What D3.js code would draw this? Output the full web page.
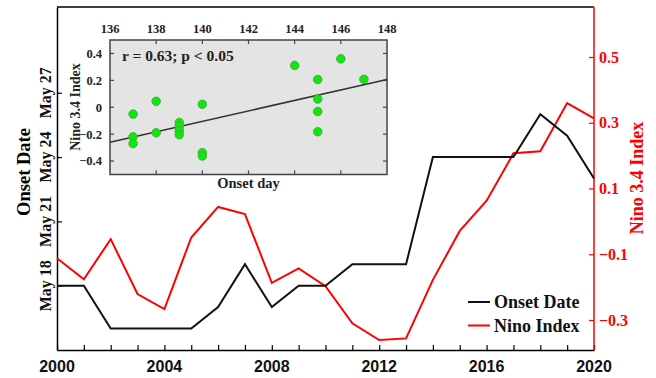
<!DOCTYPE html>
<html><head><meta charset="utf-8">
<script src="https://cdn.jsdelivr.net/npm/d3@7"></script>
<style>body{margin:0;background:#fff}svg{display:block}</style>
</head><body>
<svg id="c" width="656" height="378"></svg>
<script>
// ---- data ----
const years = d3.range(2000, 2021);
const onsetDay = [138,138,136,136,136,136,137,139,137,138,138,139,139,139,144,144,144,144,146,145,143];
const ninoIndex = [-0.112,-0.176,-0.054,-0.221,-0.267,-0.049,0.044,0.022,-0.187,-0.143,-0.197,-0.31,-0.361,-0.356,-0.178,-0.029,0.063,0.207,0.213,0.36,0.313];
const leftTickVals = [138,141,144,147];
const leftTickLabels = ["May 18","May 21","May 24","May 27"];
const rightTickVals = [-0.3,-0.1,0.1,0.3,0.5];
const bottomLabelYears = [2000,2004,2008,2012,2016,2020];
// inset scatter
const scatterDay = [137,137,137,138,138,139,139,139,139,140,140,140,144,145,145,145,145,146,147];
const scatterNino = [-0.051,-0.22,-0.27,0.044,-0.19,-0.113,-0.143,-0.174,-0.204,0.022,-0.338,-0.363,0.311,0.206,0.061,-0.032,-0.182,0.36,0.208];
const trendDay = [136,148];
const trendNino = [-0.26,0.206];
const insetXTicks = [136,138,140,142,144,146,148];
const insetYTicks = [-0.4,-0.2,0,0.2,0.4];

const svg = d3.select("#c");
const serif = "'Liberation Serif','Times New Roman',serif";
const sans = "'Liberation Sans',Arial,sans-serif";

// ---- main scales ----
const x = d3.scaleLinear().domain([2000,2020]).range([57,594]);
const yL = d3.scaleLinear().domain([135,151]).range([350,7]);
const yR = d3.scaleLinear().domain([-0.3,0.5]).range([320,57]);
const plotTop = yL(151), plotBot = yL(135);

// frame: top border
svg.append("line").attr("x1",x(2000)).attr("x2",x(2020)).attr("y1",plotTop).attr("y2",plotTop)
  .attr("stroke","#000").attr("stroke-width",1.5);

// bottom axis
const gB = svg.append("g").attr("transform",`translate(0,${plotBot})`)
  .call(d3.axisBottom(x).tickValues(years).tickSizeInner(-5).tickSizeOuter(0).tickFormat(""));
gB.select(".domain").attr("stroke","#000").attr("stroke-width",1.5);
gB.selectAll(".tick line").attr("stroke","#000").attr("stroke-width",1.2);
svg.append("g").selectAll("text").data(bottomLabelYears).join("text")
  .attr("x",d=>x(d)).attr("y",372).attr("text-anchor","middle")
  .attr("font-family",sans).attr("font-weight","bold").attr("font-size",16).attr("fill","#111")
  .text(d=>d);

// left axis
const gL = svg.append("g").attr("transform",`translate(${x(2000)},0)`)
  .call(d3.axisLeft(yL).tickValues(leftTickVals).tickSizeInner(-5).tickSizeOuter(0).tickFormat(""));
gL.select(".domain").attr("stroke","#000").attr("stroke-width",1.5);
gL.selectAll(".tick line").attr("stroke","#000").attr("stroke-width",1.2);
svg.append("g").selectAll("text").data(leftTickVals).join("text")
  .attr("transform",(d)=>`translate(51,${yL(d)}) rotate(-90)`)
  .attr("text-anchor","middle")
  .attr("font-family",serif).attr("font-weight","bold").attr("font-size",16).attr("fill","#111")
  .text((d,i)=>leftTickLabels[i]);
svg.append("text").attr("transform",`translate(30,172) rotate(-90)`).attr("text-anchor","middle")
  .attr("font-family",serif).attr("font-weight","bold").attr("font-size",18.5).attr("fill","#000")
  .text("Onset Date");

// right axis (red)
const gR = svg.append("g").attr("transform",`translate(${x(2020)},0)`)
  .call(d3.axisRight(yR).tickValues(rightTickVals).tickSizeInner(-5).tickSizeOuter(0).tickFormat(""));
gR.select(".domain").attr("d",`M0,${plotTop}V${plotBot}`).attr("stroke","#ff0000").attr("stroke-width",1.5);
gR.selectAll(".tick line").attr("stroke","#ff0000").attr("stroke-width",1.2);
svg.append("g").selectAll("text").data(rightTickVals).join("text")
  .attr("x",599).attr("y",d=>yR(d)).attr("dy","0.35em")
  .attr("font-family",serif).attr("font-weight","bold").attr("font-size",16).attr("fill","#ff0000")
  .text(d=>d3.format(".1f")(d));
svg.append("text").attr("transform",`translate(643,178) rotate(-90)`).attr("text-anchor","middle")
  .attr("font-family",serif).attr("font-weight","bold").attr("font-size",18).attr("fill","#ff0000")
  .text("Nino 3.4 Index");

// lines
svg.append("path").datum(years.map((yr,i)=>[yr,ninoIndex[i]]))
  .attr("fill","none").attr("stroke","#ff0000").attr("stroke-width",2)
  .attr("d",d3.line().x(d=>x(d[0])).y(d=>yR(d[1])));
svg.append("path").datum(years.map((yr,i)=>[yr,onsetDay[i]]))
  .attr("fill","none").attr("stroke","#111").attr("stroke-width",2)
  .attr("d",d3.line().x(d=>x(d[0])).y(d=>yL(d[1])));

// legend
const leg = [{t:"Onset Date",c:"#111"},{t:"Nino Index",c:"#ff0000"}];
leg.forEach((d,i)=>{
  const yy = 302 + i*23.5;
  svg.append("line").attr("x1",468).attr("x2",490).attr("y1",yy).attr("y2",yy)
    .attr("stroke",d.c).attr("stroke-width",2);
  svg.append("text").attr("x",494).attr("y",yy+6).attr("font-family",serif)
    .attr("font-weight","bold").attr("font-size",18).attr("fill","#111").text(d.t);
});

// ---- inset ----
const ix = d3.scaleLinear().domain([136,148]).range([110,387]);
const iy = d3.scaleLinear().domain([-0.5,0.5]).range([174.5,40]);
const ins = svg.append("g");
ins.append("rect").attr("x",ix(136)).attr("y",iy(0.5)).attr("width",ix(148)-ix(136)).attr("height",iy(-0.5)-iy(0.5))
  .attr("fill","#e4e4e4").attr("stroke","#444").attr("stroke-width",1.5);
const inner = insetXTicks.slice(1,-1);
// top & bottom ticks
ins.append("g").selectAll("line").data(inner).join("line")
  .attr("x1",d=>ix(d)).attr("x2",d=>ix(d)).attr("y1",iy(0.5)).attr("y2",iy(0.5)+4)
  .attr("stroke","#444").attr("stroke-width",1.2);
ins.append("g").selectAll("line").data(inner).join("line")
  .attr("x1",d=>ix(d)).attr("x2",d=>ix(d)).attr("y1",iy(-0.5)).attr("y2",iy(-0.5)-4)
  .attr("stroke","#444").attr("stroke-width",1.2);
// left & right ticks
ins.append("g").selectAll("line").data(insetYTicks).join("line")
  .attr("x1",ix(136)).attr("x2",ix(136)+4).attr("y1",d=>iy(d)).attr("y2",d=>iy(d))
  .attr("stroke","#444").attr("stroke-width",1.2);
ins.append("g").selectAll("line").data(insetYTicks).join("line")
  .attr("x1",ix(148)).attr("x2",ix(148)-4).attr("y1",d=>iy(d)).attr("y2",d=>iy(d))
  .attr("stroke","#444").attr("stroke-width",1.2);
// labels
ins.append("g").selectAll("text").data(insetXTicks).join("text")
  .attr("x",d=>ix(d)).attr("y",32.5).attr("text-anchor","middle")
  .attr("font-family",serif).attr("font-weight","bold").attr("font-size",12.5).attr("fill","#222")
  .text(d=>d);
ins.append("g").selectAll("text").data(insetYTicks).join("text")
  .attr("x",102).attr("y",d=>iy(d)).attr("dy","0.35em").attr("text-anchor","end")
  .attr("font-family",serif).attr("font-weight","bold").attr("font-size",12.5).attr("fill","#222")
  .text(d=>d===0?"0":d3.format(".1f")(d));
ins.append("text").attr("transform",`translate(80,107) rotate(-90)`).attr("text-anchor","middle")
  .attr("font-family",serif).attr("font-weight","bold").attr("font-size",14).attr("fill","#222")
  .text("Nino 3.4 Index");
ins.append("text").attr("x",(ix(136)+ix(148))/2).attr("y",188).attr("text-anchor","middle")
  .attr("font-family",serif).attr("font-weight","bold").attr("font-size",14.5).attr("fill","#222")
  .text("Onset day");
ins.append("text").attr("x",122).attr("y",61).attr("font-family",serif).attr("font-weight","bold")
  .attr("font-size",15.5).attr("fill","#222").text("r = 0.63; p < 0.05");
// trend line
ins.append("line").attr("x1",ix(trendDay[0])).attr("y1",iy(trendNino[0]))
  .attr("x2",ix(trendDay[1])).attr("y2",iy(trendNino[1]))
  .attr("stroke","#333").attr("stroke-width",1.5);
// points
ins.append("g").selectAll("circle").data(scatterDay.map((d,i)=>[d,scatterNino[i]])).join("circle")
  .attr("cx",d=>ix(d[0])).attr("cy",d=>iy(d[1])).attr("r",4.3)
  .attr("fill","#11e611").attr("stroke","#3aa83a").attr("stroke-width",0.8);
</script>
</body></html>
